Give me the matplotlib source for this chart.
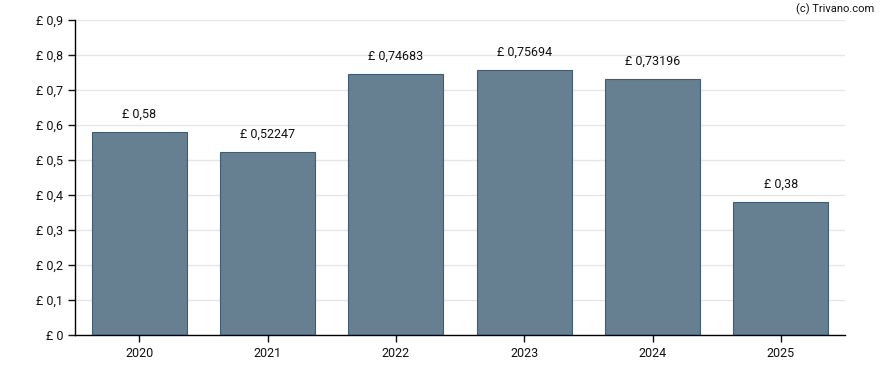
import matplotlib
matplotlib.use("Agg")
import matplotlib.pyplot as plt
import numpy as np

plt.rcParams['font.family'] = ['Roboto', 'DejaVu Sans']

years = ["2020", "2021", "2022", "2023", "2024", "2025"]
values = [0.58, 0.52247, 0.74683, 0.75694, 0.73196, 0.38]
labels = ["£ 0,58", "£ 0,52247", "£ 0,74683", "£ 0,75694", "£ 0,73196", "£ 0,38"]
yticks = [0, 0.1, 0.2, 0.3, 0.4, 0.5, 0.6, 0.7, 0.8, 0.9]
ytick_labels = ["£ 0", "£ 0,1", "£ 0,2", "£ 0,3", "£ 0,4", "£ 0,5", "£ 0,6", "£ 0,7", "£ 0,8", "£ 0,9"]

fig = plt.figure(figsize=(8.88, 3.70), dpi=100)
ax = fig.add_axes([75/888, 35/370, 770/888, 315/370])

x = np.arange(len(years))
ax.bar(x, values, width=0.74, color="#667f91", edgecolor="#3f5d73", linewidth=0.8, zorder=2)
for xi, v, lab in zip(x, values, labels):
    ax.annotate(lab, (xi, v), xytext=(0, 8), textcoords="offset points",
                ha="center", va="bottom", fontsize=9, color="#111111")

ax.set_xlim(-0.5, len(years) - 0.5)
ax.set_ylim(0, 0.9)
ax.set_yticks(yticks)
ax.set_yticklabels(ytick_labels)
ax.set_xticks(x)
ax.set_xticklabels(years)
ax.tick_params(labelsize=9, colors="#111111", length=5, width=1)
ax.grid(axis="y", color="#e6e6e6", linewidth=1, zorder=0)
ax.spines["top"].set_visible(False)
ax.spines["right"].set_visible(False)
for s in ("left", "bottom"):
    ax.spines[s].set_color("black")
    ax.spines[s].set_linewidth(1)

fig.text(0.985, 0.99, "(c) Trivano.com", ha="right", va="top", fontsize=8, color="#111111")

fig.savefig("out.png", dpi=100)
